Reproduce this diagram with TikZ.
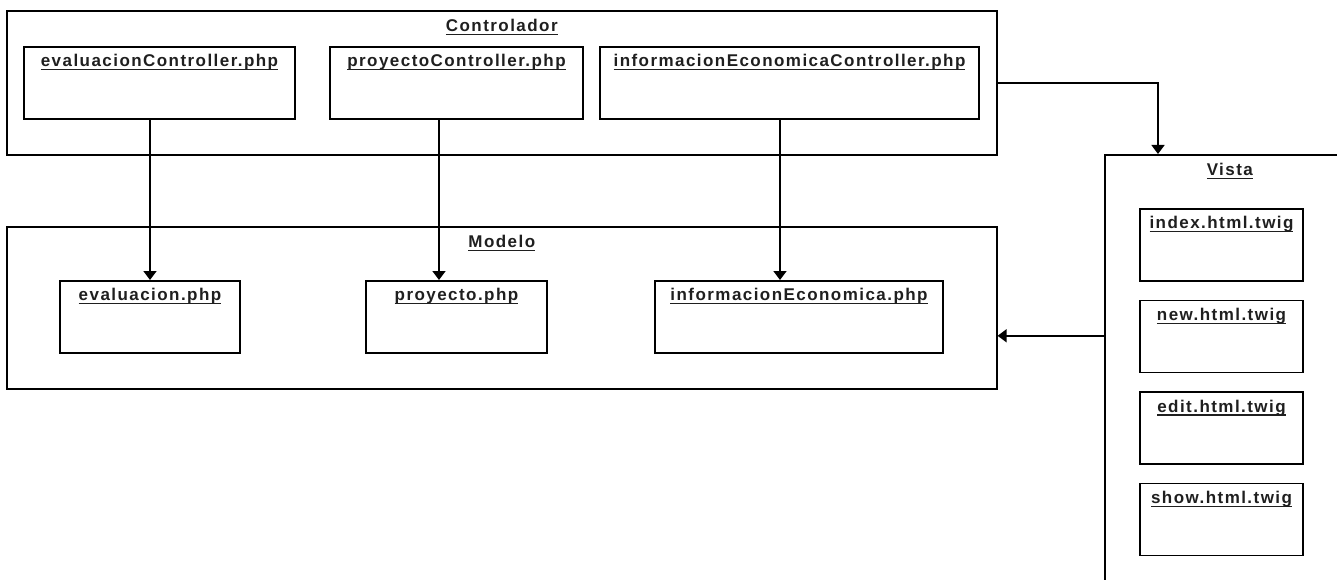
\documentclass[tikz,border=0pt]{standalone}
\usepackage{fontspec}
\newfontfamily\umlfont{Liberation Sans}[LetterSpace=8.5]
\usetikzlibrary{arrows.meta,positioning}
\newcommand\ulbox[1]{\setbox0\hbox{#1}\rlap{\rule[-3.5pt]{\wd0}{1.3pt}}\box0}

\begin{document}
\begin{tikzpicture}[x=1pt,y=-1pt,>={Triangle[width=13pt,length=9pt]},
  line width=1.6pt,node distance=18pt,
  every node/.style={font=\umlfont\bfseries\fontsize{17}{20}\selectfont,text=black!88},
  package/.style={draw,anchor=north west,inner sep=0pt,text height=21pt},
  classbox/.style={draw,anchor=north,inner sep=0pt,text height=20pt,text depth=52pt}]

  \useasboundingbox (0,0) rectangle (1337,580);
  \clip (0,0) rectangle (1337,580);

  % packages
  \node[package,minimum width=990pt,text depth=123pt] (ctrl)  at (6,10)    {\ulbox{Controlador}};
  \node[package,minimum width=990pt,text depth=141pt] (model) at (6,226)   {\ulbox{Modelo}};
  \node[package,minimum width=250pt,text depth=430pt] (vista) at (1104,154) {\ulbox{Vista}};

  % controladores
  \node[classbox,minimum width=271pt] (evalCtrl) at (159.5,46) {\ulbox{evaluacionController.php}};
  \node[classbox,minimum width=253pt] (prjCtrl)  at (456.5,46) {\ulbox{proyectoController.php}};
  \node[classbox,minimum width=379pt] (infoCtrl) at (789.5,46) {\ulbox{informacionEconomicaController.php}};

  % modelos
  \node[classbox,minimum width=180pt] (evalModel) at (150,280)   {\ulbox{evaluacion.php}};
  \node[classbox,minimum width=181pt] (prjModel)  at (456.5,280) {\ulbox{proyecto.php}};
  \node[classbox,minimum width=288pt] (infoModel) at (799,280)   {\ulbox{informacionEconomica.php}};

  % vistas
  \node[classbox,minimum width=163pt] (idxView) at (1221.5,208) {\ulbox{index.html.twig}};
  \node[classbox,minimum width=163pt] (newView)  [below=of idxView]  {\ulbox{new.html.twig}};
  \node[classbox,minimum width=163pt] (editView) [below=of newView]  {\ulbox{edit.html.twig}};
  \node[classbox,minimum width=163pt] (showView) [below=of editView] {\ulbox{show.html.twig}};

  \coordinate (prjIn)   at ([xshift=-17.5pt]prjModel.north);
  \coordinate (infoIn)  at ([xshift=-19pt]infoModel.north);
  \coordinate (vistaIn) at ([xshift=54pt]vista.north west);
  \coordinate (modelIn) at ([yshift=-28pt]model.east);

  \draw[->] (evalModel.north |- evalCtrl.south) -- (evalModel.north);
  \draw[->] (prjIn |- prjCtrl.south) -- (prjIn);
  \draw[->] (infoIn |- infoCtrl.south) -- (infoIn);
  \draw[->] (ctrl.east) -| (vistaIn);
  \draw[->] (vista.west |- modelIn) -- (modelIn);
\end{tikzpicture}
\end{document}
